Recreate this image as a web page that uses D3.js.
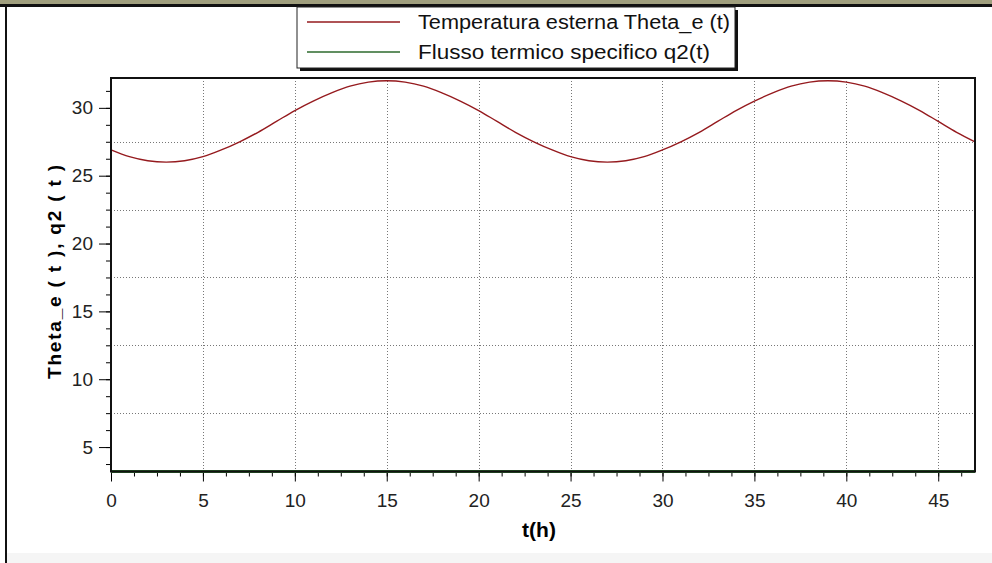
<!DOCTYPE html>
<html>
<head>
<meta charset="utf-8">
<script src="https://cdn.jsdelivr.net/npm/d3@7"></script>
<style>
	html, body { margin: 0; padding: 0; background: #fff; }
	svg { display: block; }
	text { font-family: 'Liberation Sans', Arial, sans-serif; }
</style>
</head>
<body>
<div id="chart"></div>
<script>
// hours and values
const hours = [0, 1, 2, 3, 4, 5, 6, 7, 8, 9, 10, 11, 12, 13, 14, 15, 16, 17, 18, 19, 20, 21, 22, 23,
	24, 25, 26, 27, 28, 29, 30, 31, 32, 33, 34, 35, 36, 37, 38, 39, 40, 41, 42, 43, 44, 45, 46, 47]
const thetaE = [26.9, 26.4, 26.1, 26.0, 26.1, 26.4, 26.9, 27.5, 28.2, 29.0, 29.8, 30.5, 31.1, 31.6, 31.9, 32.0,
	31.9, 31.6, 31.1, 30.5, 29.8, 29.0, 28.2, 27.5, 26.9, 26.4, 26.1, 26.0, 26.1, 26.4, 26.9, 27.5,
	28.2, 29.0, 29.8, 30.5, 31.1, 31.6, 31.9, 32.0, 31.9, 31.6, 31.1, 30.5, 29.8, 29.0, 28.2, 27.5]
const q2 = [3.2, 3.2, 3.2, 3.2, 3.2, 3.2, 3.2, 3.2, 3.2, 3.2, 3.2, 3.2, 3.2, 3.2, 3.2, 3.2,
	3.2, 3.2, 3.2, 3.2, 3.2, 3.2, 3.2, 3.2, 3.2, 3.2, 3.2, 3.2, 3.2, 3.2, 3.2, 3.2,
	3.2, 3.2, 3.2, 3.2, 3.2, 3.2, 3.2, 3.2, 3.2, 3.2, 3.2, 3.2, 3.2, 3.2, 3.2, 3.2]
const xTicks = [0, 5, 10, 15, 20, 25, 30, 35, 40, 45]
const yTicks = [5, 10, 15, 20, 25, 30]
const yGrid = [7.5, 12.5, 17.5, 22.5, 27.5]
const legendLabels = ['Temperatura esterna Theta_e (t)', 'Flusso termico specifico q2(t)']
const colors = ['#951a1e', '#2d6a2d']

const width = 992
const height = 563
const plotLeft = 111, plotRight = 975, plotTop = 78, plotBottom = 471.5

const svg = d3.select('#chart').append('svg')
	.attr('width', width)
	.attr('height', height)

// window frame bits
svg.append('rect').attr('x', 0).attr('y', 0).attr('width', width).attr('height', 4).attr('fill', '#a09f7e')
svg.append('rect').attr('x', 0).attr('y', 4).attr('width', width).attr('height', 3).attr('fill', '#111')
svg.append('rect').attr('x', 5).attr('y', 7).attr('width', 2).attr('height', height).attr('fill', '#111')
svg.append('rect').attr('x', 7).attr('y', 553).attr('width', width).attr('height', 10).attr('fill', '#f5f5f5')

const x = d3.scaleLinear().domain([0, 47]).range([plotLeft, plotRight])
const y = d3.scaleLinear().domain([3.2, 32.2]).range([plotBottom, plotTop])

// grid
const grid = svg.append('g')
	.attr('stroke', '#777')
	.attr('stroke-width', 1)
	.attr('stroke-dasharray', '1,2')
grid.selectAll('.gx').data(xTicks.slice(1)).join('line')
	.attr('x1', (d) => Math.round(x(d)) + 0.5).attr('x2', (d) => Math.round(x(d)) + 0.5)
	.attr('y1', plotTop).attr('y2', plotBottom)
grid.selectAll('.gy').data(yGrid).join('line')
	.attr('x1', plotLeft).attr('x2', plotRight)
	.attr('y1', (d) => Math.round(y(d)) + 0.5).attr('y2', (d) => Math.round(y(d)) + 0.5)

// axes
const minorX = d3.range(0, 47.01, 1.25)
const minorY = d3.range(3.75, 32.2, 1.25)

svg.append('g')
	.attr('transform', `translate(0,${plotBottom})`)
	.call(d3.axisBottom(x).tickValues(minorX).tickSize(5).tickFormat(''))
	.call((g) => g.select('.domain').remove())
svg.append('g')
	.attr('transform', `translate(0,${plotBottom})`)
	.call(d3.axisBottom(x).tickValues(xTicks).tickSize(10).tickPadding(12))
	.call((g) => g.select('.domain').remove())
	.call((g) => g.selectAll('text').attr('font-size', 19).attr('fill', '#222'))

svg.append('g')
	.attr('transform', `translate(${plotLeft},0)`)
	.call(d3.axisLeft(y).tickValues(minorY).tickSize(5).tickFormat(''))
	.call((g) => g.select('.domain').remove())
svg.append('g')
	.attr('transform', `translate(${plotLeft},0)`)
	.call(d3.axisLeft(y).tickValues(yTicks).tickSize(12).tickPadding(6))
	.call((g) => g.select('.domain').remove())
	.call((g) => g.selectAll('text').attr('font-size', 19).attr('fill', '#222'))

// series
const line = d3.line()
	.x((d, i) => x(hours[i]))
	.y((d) => y(d))
	.curve(d3.curveCatmullRom)

svg.append('path').datum(q2)
	.attr('fill', 'none').attr('stroke', colors[1]).attr('stroke-width', 3)
	.attr('d', line)
svg.append('path').datum(thetaE)
	.attr('fill', 'none').attr('stroke', colors[0]).attr('stroke-width', 1.4)
	.attr('d', line)

// plot box
svg.append('rect')
	.attr('x', plotLeft).attr('y', plotTop)
	.attr('width', plotRight - plotLeft).attr('height', plotBottom - plotTop)
	.attr('fill', 'none').attr('stroke', '#111').attr('stroke-width', 2)

// axis titles
svg.append('text')
	.attr('x', 539).attr('y', 537)
	.attr('text-anchor', 'middle')
	.attr('font-size', 21).attr('font-weight', 'bold')
	.text('t(h)')
svg.append('text')
	.attr('transform', 'translate(61,272) rotate(-90)')
	.attr('text-anchor', 'middle')
	.attr('font-size', 19).attr('font-weight', 'bold')
	.attr('textLength', 214).attr('lengthAdjust', 'spacing')
	.text('Theta_e ( t ), q2 ( t )')

// legend
const lg = svg.append('g')
lg.append('rect').attr('x', 300).attr('y', 10).attr('width', 438).attr('height', 61).attr('fill', '#111')
lg.append('rect').attr('x', 297).attr('y', 7).attr('width', 438).attr('height', 61)
	.attr('fill', '#fff').attr('stroke', '#222').attr('stroke-width', 1)
lg.selectAll('line').data(legendLabels).join('line')
	.attr('x1', 307).attr('x2', 400)
	.attr('y1', (d, i) => 22 + i * 30).attr('y2', (d, i) => 22 + i * 30)
	.attr('stroke', (d, i) => colors[i]).attr('stroke-width', 1.4)
lg.selectAll('text').data(legendLabels).join('text')
	.attr('x', 418)
	.attr('y', (d, i) => 29 + i * 30)
	.attr('font-size', 20)
	.attr('fill', '#111')
	.attr('textLength', (d, i) => [312, 292][i]).attr('lengthAdjust', 'spacingAndGlyphs')
	.text((d) => d)
</script>
</body>
</html>
